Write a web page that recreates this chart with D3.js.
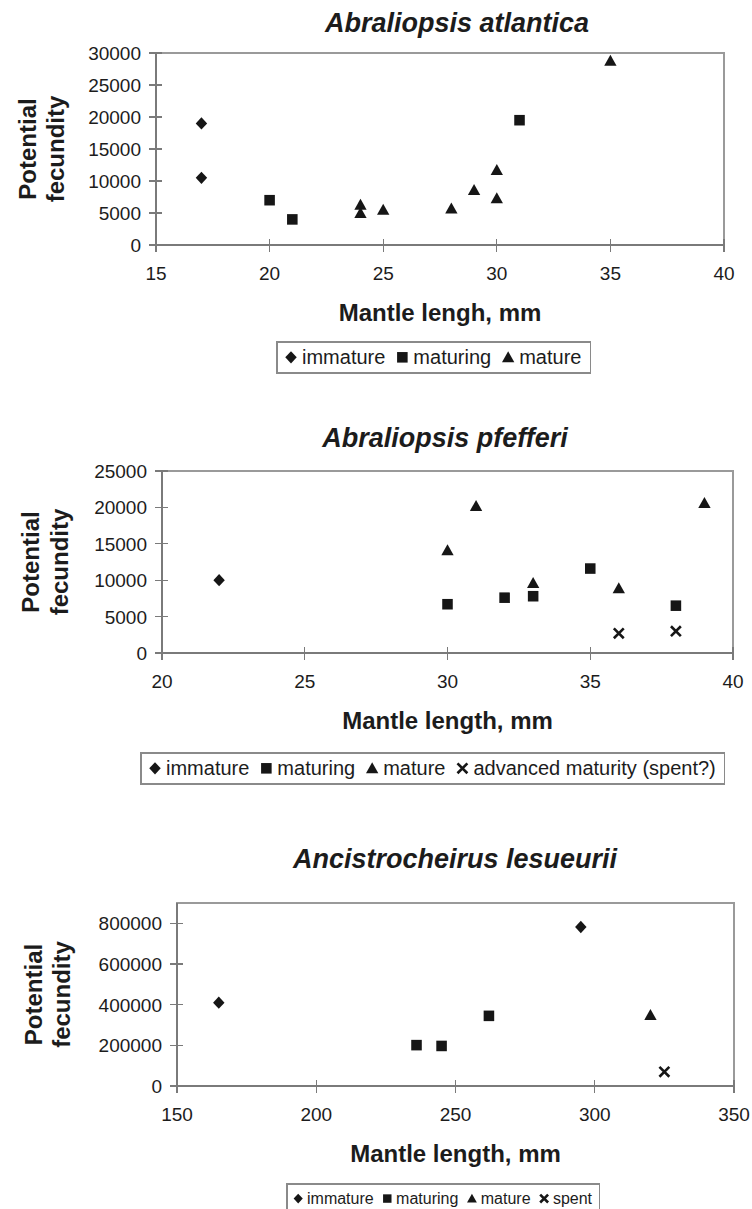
<!DOCTYPE html>
<meta charset="utf-8">
<head>
    <title>Potential fecundity vs mantle length</title>
    <script src="https://d3js.org/d3.v7.min.js"></script>
</head>
<style>
    body {
        margin: 0;
        background: #fff;
    }
    svg text {
        font-family: "Liberation Sans", Arial, sans-serif;
        fill: #1c1c1c;
    }
    .title {
        font-size: 27px;
        font-weight: bold;
        font-style: italic;
    }
    .axis-title {
        font-size: 24px;
        font-weight: bold;
    }
    .tick-label {
        font-size: 19px;
    }
    .axis-line {
        stroke: #7a7a7a;
        stroke-width: 1.3px;
        shape-rendering: crispEdges;
    }
    .plot-border {
        fill: none;
        stroke: #9a9a9a;
        stroke-width: 1.2px;
        shape-rendering: crispEdges;
    }
    .legend-box {
        fill: #fff;
        stroke: #8a8a8a;
        stroke-width: 1.2px;
        shape-rendering: crispEdges;
    }
    .mark {
        fill: #161616;
    }
    .mark-x {
        fill: none;
        stroke: #161616;
        stroke-width: 2.6px;
    }
</style>
<body>
<svg width="752" height="1209"></svg>

<script>
    // ---- data ----
    // Abraliopsis atlantica
    var atlImmature = [[17, 19000], [17, 10500]];
    var atlMaturing = [[20, 7000], [21, 4000], [31, 19500]];
    var atlMature = [[24, 6300], [24, 5000], [25, 5500], [28, 5700], [29, 8600], [30, 11700], [30, 7300], [35, 28800]];
    var atlXTicks = [15, 20, 25, 30, 35, 40];
    var atlYTicks = [0, 5000, 10000, 15000, 20000, 25000, 30000];

    // Abraliopsis pfefferi
    var pfeImmature = [[22, 10000]];
    var pfeMaturing = [[30, 6700], [32, 7600], [33, 7800], [35, 11600], [38, 6500]];
    var pfeMature = [[30, 14100], [31, 20200], [33, 9600], [36, 8900], [39, 20600]];
    var pfeSpent = [[36, 2700], [38, 3000]];
    var pfeXTicks = [20, 25, 30, 35, 40];
    var pfeYTicks = [0, 5000, 10000, 15000, 20000, 25000];

    // Ancistrocheirus lesueurii
    var ancImmature = [[165, 410000], [295, 782000]];
    var ancMaturing = [[236, 201000], [245, 197000], [262, 345000]];
    var ancMature = [[320, 349000]];
    var ancSpent = [[325, 70000]];
    var ancXTicks = [150, 200, 250, 300, 350];
    var ancYTicks = [0, 200000, 400000, 600000, 800000];

    var legend3 = ["immature", "maturing", "mature"];
    var legend4 = ["immature", "maturing", "mature", "advanced maturity (spent?)"];
    var legendAnc = ["immature", "maturing", "mature", "spent"];

    // ---- marker shapes ----
    var diamond = {draw: function(c, s) {
        var w = s * 0.52, h = s * 0.56;
        c.moveTo(0, -h); c.lineTo(w, 0); c.lineTo(0, h); c.lineTo(-w, 0); c.closePath();
    }};
    var square = {draw: function(c, s) {
        var r = s * 0.48;
        c.rect(-r, -r, 2 * r, 2 * r);
    }};
    var triangle = {draw: function(c, s) {
        var w = s * 0.56, h = s * 0.5;
        c.moveTo(0, -h * 1.1); c.lineTo(w, h * 0.9); c.lineTo(-w, h * 0.9); c.closePath();
    }};
    var times = {draw: function(c, s) {
        var r = s * 0.45;
        c.moveTo(-r, -r); c.lineTo(r, r); c.moveTo(r, -r); c.lineTo(-r, r);
    }};
    var shapes = [diamond, square, triangle, times];

    var svg = d3.select("svg");

    function drawChart(opt) {
        var x = d3.scaleLinear().domain(opt.xDomain).range(opt.xRange);
        var y = d3.scaleLinear().domain(opt.yDomain).range(opt.yRange);
        var g = svg.append("g");

        // plot border (top and right, light gray)
        g.append("rect")
            .attr("class", "plot-border")
            .attr("x", x.range()[0])
            .attr("y", y.range()[1])
            .attr("width", x.range()[1] - x.range()[0])
            .attr("height", y.range()[0] - y.range()[1]);

        // axes
        g.append("line").attr("class", "axis-line")
            .attr("x1", x.range()[0]).attr("x2", x.range()[1])
            .attr("y1", y.range()[0]).attr("y2", y.range()[0]);
        g.append("line").attr("class", "axis-line")
            .attr("x1", x.range()[0]).attr("x2", x.range()[0])
            .attr("y1", y.range()[0]).attr("y2", y.range()[1]);

        g.selectAll(".xtick").data(opt.xTicks).enter().append("line")
            .attr("class", "axis-line xtick")
            .attr("x1", x).attr("x2", x)
            .attr("y1", y.range()[0] - 6).attr("y2", y.range()[0] + 7);
        g.selectAll(".ytick").data(opt.yTicks).enter().append("line")
            .attr("class", "axis-line ytick")
            .attr("y1", y).attr("y2", y)
            .attr("x1", x.range()[0] - 7).attr("x2", x.range()[0] + 6);

        g.selectAll(".xlab").data(opt.xTicks).enter().append("text")
            .attr("class", "tick-label xlab")
            .attr("x", x)
            .attr("y", y.range()[0] + 35)
            .attr("text-anchor", "middle")
            .text(function(d) { return d; });
        g.selectAll(".ylab").data(opt.yTicks).enter().append("text")
            .attr("class", "tick-label ylab")
            .attr("x", x.range()[0] - 15)
            .attr("y", function(d) { return y(d) + 7; })
            .attr("text-anchor", "end")
            .text(function(d) { return d; });

        // titles
        g.append("text").attr("class", "title")
            .attr("x", opt.titleX).attr("y", opt.titleY)
            .attr("text-anchor", "middle")
            .text(opt.title);
        g.append("text").attr("class", "axis-title")
            .attr("x", (x.range()[0] + x.range()[1]) / 2)
            .attr("y", y.range()[0] + 76)
            .attr("text-anchor", "middle")
            .text(opt.xTitle);
        var yMid = (y.range()[0] + y.range()[1]) / 2;
        g.append("text").attr("class", "axis-title")
            .attr("transform", "translate(" + opt.yTitleX[0] + "," + yMid + ") rotate(-90)")
            .attr("text-anchor", "middle")
            .text("Potential");
        g.append("text").attr("class", "axis-title")
            .attr("transform", "translate(" + opt.yTitleX[1] + "," + yMid + ") rotate(-90)")
            .attr("text-anchor", "middle")
            .text("fecundity");

        // points
        opt.series.forEach(function(data, i) {
            g.selectAll(".s" + i).data(data).enter().append("path")
                .attr("class", i == 3 ? "mark-x s" + i : "mark s" + i)
                .attr("transform", function(d) { return "translate(" + x(d[0]) + "," + y(d[1]) + ")"; })
                .attr("d", d3.symbol().type(shapes[i]).size(opt.markSize));
        });

        // legend
        var lg = svg.append("g");
        var box = lg.append("rect").attr("class", "legend-box")
            .attr("x", opt.legendX).attr("y", opt.legendY)
            .attr("height", opt.legendH);
        var k = opt.legendFont / 20;
        var cursor = opt.legendX;
        var base = opt.legendY + opt.legendH * 0.72;
        opt.legend.forEach(function(label, i) {
            lg.append("path")
                .attr("class", i == 3 ? "mark-x" : "mark")
                .attr("transform", "translate(" + (cursor + 14 * k) + "," + (base - 7 * k) + ")")
                .attr("d", d3.symbol().type(shapes[i]).size(opt.markSize * k));
            var t = lg.append("text")
                .attr("x", cursor + 25 * k)
                .attr("y", base)
                .style("font-size", opt.legendFont + "px")
                .text(label);
            cursor = cursor + 25 * k + t.node().getComputedTextLength() + 3 * k;
        });
        box.attr("width", cursor - opt.legendX + 6 * k);
    }

    drawChart({
        title: "Abraliopsis atlantica", titleX: 457, titleY: 32,
        xTitle: "Mantle lengh, mm",
        xDomain: [15, 40], xRange: [156, 724],
        yDomain: [0, 30000], yRange: [245, 53],
        xTicks: atlXTicks, yTicks: atlYTicks,
        yTitleX: [36, 64],
        series: [atlImmature, atlMaturing, atlMature],
        markSize: 11,
        legend: legend3, legendX: 277, legendY: 342, legendH: 31, legendFont: 20
    });

    drawChart({
        title: "Abraliopsis pfefferi", titleX: 445, titleY: 447,
        xTitle: "Mantle length, mm",
        xDomain: [20, 40], xRange: [162, 733],
        yDomain: [0, 25000], yRange: [653, 471],
        xTicks: pfeXTicks, yTicks: pfeYTicks,
        yTitleX: [39, 68],
        series: [pfeImmature, pfeMaturing, pfeMature, pfeSpent],
        markSize: 11,
        legend: legend4, legendX: 141, legendY: 753, legendH: 31, legendFont: 20
    });

    drawChart({
        title: "Ancistrocheirus lesueurii", titleX: 455, titleY: 868,
        xTitle: "Mantle length, mm",
        xDomain: [150, 350], xRange: [177, 734],
        yDomain: [0, 900000], yRange: [1086, 903],
        xTicks: ancXTicks, yTicks: ancYTicks,
        yTitleX: [42, 70],
        series: [ancImmature, ancMaturing, ancMature, ancSpent],
        markSize: 11,
        legend: legendAnc, legendX: 287, legendY: 1184, legendH: 28, legendFont: 16
    });
</script>
</body>
